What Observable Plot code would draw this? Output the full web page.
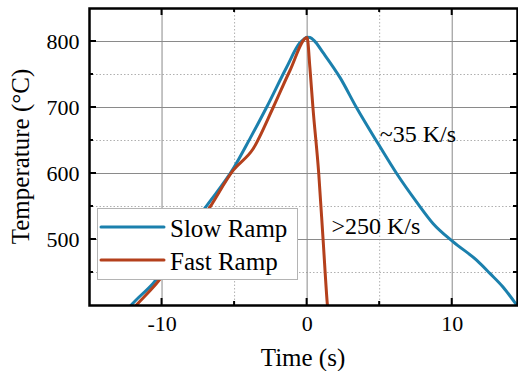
<!DOCTYPE html>
<html>
<head>
<meta charset="utf-8">
<script src="https://cdn.jsdelivr.net/npm/d3@7"></script>
<script src="https://cdn.jsdelivr.net/npm/@observablehq/plot@0.6"></script>
<style>
  html, body { margin: 0; padding: 0; background: white; }
  #wrap { position: relative; width: 518px; height: 371px; font-family: "Liberation Serif", "Times New Roman", serif; }
  #wrap svg, #wrap svg text { font-family: "Liberation Serif", "Times New Roman", serif !important; }
  #legend { position: absolute; left: 97px; top: 208px; width: 199px; height: 70px; background: white; border: 1px solid #b4b4b4; }
</style>
</head>
<body>
<div id="wrap"><div id="chart"></div><div id="legend"></div></div>
<script>
// ---- data ----
const seriesNames = ["Slow Ramp", "Fast Ramp"];
const seriesColors = ["#1b80ad", "#b4401c"];

const slowTime = [-12.6, -12.15, -10.62, -7.06, -5.1, -3.95, -2.8, -1.42, -0.5, -0.2, 0, 0.2, 0.5, 1.1, 2.26, 3.4, 4.9, 6.17, 7.54, 8.69, 10.07, 11.68, 12.6, 13.5, 14.0, 14.6];
const slowTemp = [388, 400, 433.5, 547, 607, 652.5, 700, 760.7, 798, 804, 806.5, 806, 801, 783, 745.6, 700, 645, 600, 557, 524, 496.4, 468.7, 448.6, 428, 414, 396];

const fastTime = [-12.3, -11.8, -10.4, -6.7, -5.1, -3.72, -2.34, -1.19, 0, 0.19, 0.4, 0.8, 1.1, 1.4, 1.45];
const fastTemp = [388, 400, 433, 549, 604.7, 637.5, 700, 755.7, 806, 760.7, 700, 600, 500, 400, 388];

const xMajor = [-10, 0, 10];
const xMinor = [-5, 5];
const yMajor = [500, 600, 700, 800];
const yMinor = [450, 550, 650, 750];
const xDomain = [-15, 14.5];
const yDomain = [400, 850];

const annotations = [
  {t: 5.0, v: 647, label: "~35 K/s"},
  {t: 1.68, v: 508, label: ">250 K/s"}
];

const xTitle = "Time (s)";
const yTitle = "Temperature (°C)";

const serif = "'Liberation Serif', 'Times New Roman', serif";

// ---- build table ----
const rows = [];
slowTime.forEach((t, i) => rows.push({series: seriesNames[0], t, v: slowTemp[i]}));
fastTime.forEach((t, i) => rows.push({series: seriesNames[1], t, v: fastTemp[i]}));

const chart = Plot.plot({
  width: 518, height: 371,
  marginLeft: 89, marginRight: 1, marginTop: 8, marginBottom: 66,
  style: {fontFamily: serif, fontSize: "22px", background: "white", color: "black"},
  x: {domain: xDomain, ticks: xMajor, tickSize: 0, tickPadding: 10, label: null, tickFormat: d => String(d)},
  y: {domain: yDomain, ticks: yMajor, tickSize: 0, tickPadding: 10, label: null, tickFormat: d => String(d)},
  color: {domain: seriesNames, range: seriesColors},
  marks: [
    Plot.ruleX(xMinor, {stroke: "#b0b0b0", strokeWidth: 1, strokeDasharray: "1.5,2"}),
    Plot.ruleY(yMinor, {stroke: "#b0b0b0", strokeWidth: 1, strokeDasharray: "1.5,2"}),
    Plot.ruleX(xMajor, {stroke: "#8a8a8a", strokeWidth: 1}),
    Plot.ruleY(yMajor, {stroke: "#8a8a8a", strokeWidth: 1}),
    Plot.line(rows, {x: "t", y: "v", z: "series", stroke: "series", strokeWidth: 3, curve: "monotone-x", clip: true}),
    Plot.text(annotations, {x: "t", y: "v", text: "label", textAnchor: "start", lineAnchor: "bottom", fontSize: 24, fill: "black"}),
    Plot.frame({stroke: "black", strokeWidth: 2.5})
  ]
});
document.getElementById("chart").appendChild(chart);

// inward ticks on all four sides, using Plot's scales
const sx = chart.scale("x"), sy = chart.scale("y");
const svg = d3.select(chart);
const [x0, x1] = xDomain.map(d => sx.apply(d));
const [y0, y1] = yDomain.map(d => sy.apply(d)); // y0 bottom, y1 top
const g = svg.append("g").attr("stroke", "black").attr("stroke-width", 2);
[[xMajor, 7], [xMinor, 4]].forEach(([vals, len]) => vals.forEach(v => {
  const px = sx.apply(v);
  g.append("line").attr("x1", px).attr("x2", px).attr("y1", y0).attr("y2", y0 - len);
  g.append("line").attr("x1", px).attr("x2", px).attr("y1", y1).attr("y2", y1 + len);
}));
[[yMajor, 7], [yMinor, 4]].forEach(([vals, len]) => vals.forEach(v => {
  const py = sy.apply(v);
  g.append("line").attr("y1", py).attr("y2", py).attr("x1", x0).attr("x2", x0 + len);
  g.append("line").attr("y1", py).attr("y2", py).attr("x1", x1).attr("x2", x1 - len);
}));

// axis titles
svg.append("text").text(xTitle)
  .attr("x", (x0 + x1) / 2).attr("y", 366)
  .attr("text-anchor", "middle").attr("font-size", 25).attr("fill", "black");
svg.append("text").text(yTitle)
  .attr("transform", `translate(29,${(y0 + y1) / 2}) rotate(-90)`)
  .attr("text-anchor", "middle").attr("font-size", 25).attr("fill", "black");

// legend
const leg = d3.select("#legend").append("svg").attr("width", 199).attr("height", 70);
seriesNames.forEach((name, i) => {
  const cy = 18 + i * 33;
  leg.append("line").attr("x1", 3).attr("x2", 66).attr("y1", cy).attr("y2", cy)
    .attr("stroke", seriesColors[i]).attr("stroke-width", 3).attr("stroke-linecap", "round");
  leg.append("text").text(name).attr("x", 72).attr("y", cy + 10)
    .attr("font-family", serif).attr("font-size", 25).attr("fill", "black");
});
</script>
</body>
</html>
